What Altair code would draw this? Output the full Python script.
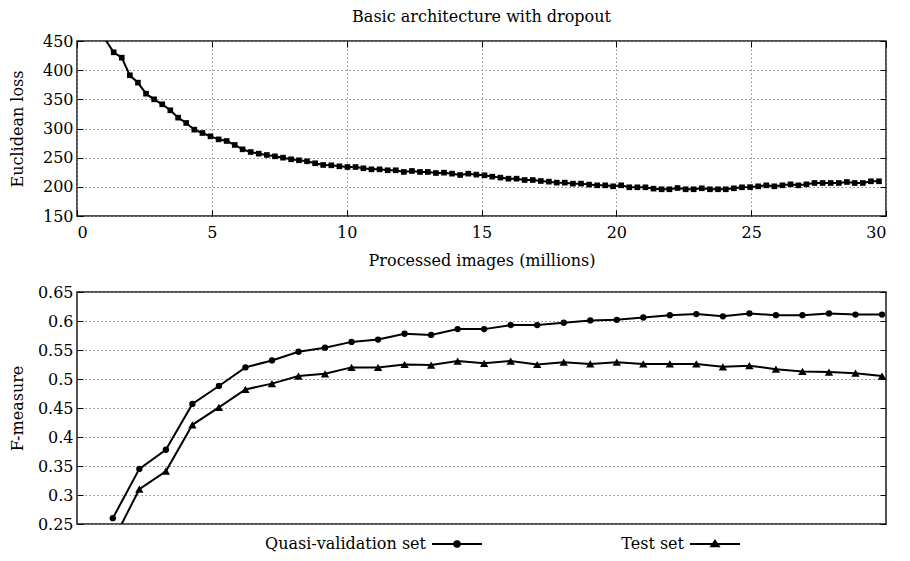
import altair as alt
import pandas as pd

# ---------------- data ----------------
# top panel: processed images (millions) vs Euclidean loss
proc_millions = [1.07, 1.36, 1.66, 1.96, 2.26, 2.56, 2.86, 3.16, 3.46, 3.75,
                 4.05, 4.35, 4.65, 4.95, 5.25, 5.55, 5.85, 6.14, 6.44, 6.74,
                 7.04, 7.34, 7.64, 7.94, 8.23, 8.53, 8.83, 9.13, 9.43, 9.73,
                 10.03, 10.33, 10.62, 10.92, 11.22, 11.52, 11.82, 12.12, 12.42, 12.72,
                 13.01, 13.31, 13.61, 13.91, 14.21, 14.51, 14.81, 15.11, 15.40, 15.70,
                 16.00, 16.30, 16.60, 16.90, 17.20, 17.50, 17.79, 18.09, 18.39, 18.69,
                 18.99, 19.29, 19.59, 19.88, 20.18, 20.48, 20.78, 21.08, 21.38, 21.68,
                 21.97, 22.27, 22.57, 22.87, 23.17, 23.47, 23.77, 24.06, 24.36, 24.66,
                 24.96, 25.26, 25.56, 25.86, 26.16, 26.46, 26.75, 27.05, 27.35, 27.65,
                 27.95, 28.25, 28.55, 28.84, 29.14, 29.44, 29.74]
euclid_loss = [451, 430.6, 421.4, 391.2, 378.6, 359.7, 350, 341.5, 331.2, 318.6,
               309.5, 298, 292.3, 286.6, 281.4, 278.6, 271.8, 264.3, 259.7, 256.9,
               254.6, 252.3, 250, 247.2, 245.5, 243.8, 240.4, 237.5, 236.9, 235.2,
               234, 234, 231.8, 230, 230, 228.4, 228.4, 225.5, 227.2, 225.5,
               225.5, 223.7, 224.3, 222.6, 220.3, 222.6, 220.9, 219.8, 217.5, 215.8,
               214, 214, 211.7, 211.7, 210, 208.9, 207.2, 207.2, 205.5, 205.5,
               203.8, 202.6, 202.6, 200.9, 202.6, 199.2, 199.2, 199.2, 196.9, 195.8,
               195.8, 198, 195.8, 195.8, 197.5, 195.8, 195.8, 195.8, 197.5, 199.2,
               199.5, 200.9, 202.6, 200.9, 202.6, 204.3, 202.6, 204.3, 206.6, 206.6,
               206.6, 206.6, 208.3, 206.6, 206.6, 209.5, 209.5]

# bottom panel: F-measure per evaluation step
eval_step = list(range(1, 31))
quasi_val = [0.260, 0.345, 0.378, 0.457, 0.488, 0.520, 0.532, 0.547, 0.554, 0.564,
             0.568, 0.578, 0.576, 0.586, 0.586, 0.593, 0.593, 0.597, 0.601, 0.602,
             0.606, 0.610, 0.612, 0.608, 0.613, 0.610, 0.610, 0.613, 0.611, 0.611]
test_set = [0.220, 0.310, 0.341, 0.421, 0.451, 0.482, 0.492, 0.505, 0.509, 0.520,
            0.520, 0.525, 0.524, 0.531, 0.527, 0.531, 0.525, 0.529, 0.526, 0.529,
            0.526, 0.526, 0.526, 0.521, 0.523, 0.517, 0.513, 0.512, 0.510, 0.505]
series_names = ["Quasi-validation set", "Test set"]

top_x_ticks = [0, 5, 10, 15, 20, 25, 30]
top_y_ticks = [150, 200, 250, 300, 350, 400, 450]
bot_y_ticks = [0.25, 0.3, 0.35, 0.4, 0.45, 0.5, 0.55, 0.6, 0.65]

# ---------------- style ----------------
FONT = "DejaVu Serif"
FS = 16
PLOT_W = 809
TOP_H, BOT_H = 175, 232

top_df = pd.DataFrame({"x": proc_millions, "loss": euclid_loss})
bot_df = pd.DataFrame({
    "step": eval_step * 2,
    "fm": quasi_val + test_set,
    "series": [series_names[0]] * len(eval_step) + [series_names[1]] * len(eval_step),
})

tick_only = dict(labels=False, grid=False, domain=False, ticks=True, tickSize=6,
                 tickColor="black", tickWidth=1, offset=-6, title=None)

xs_top = alt.Scale(domain=[0, 30], nice=False, zero=False)
ys_top = alt.Scale(domain=[150, 450], nice=False, zero=False)

top_line = alt.Chart(top_df).mark_line(color="black", strokeWidth=2, clip=True).encode(
    x=alt.X("x:Q", scale=xs_top,
            axis=alt.Axis(values=top_x_ticks, title="Processed images (millions)",
                          grid=True, ticks=False, domain=False, labelPadding=8,
                          titlePadding=12, orient="bottom")),
    y=alt.Y("loss:Q", scale=ys_top,
            axis=alt.Axis(values=top_y_ticks, title="Euclidean loss", grid=True,
                          ticks=False, domain=False, labelPadding=4, minExtent=44,
                          maxExtent=44, titlePadding=8, orient="left")),
)
top_pts = alt.Chart(top_df).transform_filter("datum.loss <= 450").mark_point(
    shape="square", filled=True, color="black", size=32, opacity=1, clip=True
).encode(
    x=alt.X("x:Q", scale=xs_top, axis=alt.Axis(values=top_x_ticks, orient="top", **tick_only)),
    y=alt.Y("loss:Q", scale=ys_top, axis=alt.Axis(values=top_y_ticks, orient="right", **tick_only)),
)
top_ticks = alt.Chart(top_df).mark_point(opacity=0, clip=True).encode(
    x=alt.X("x:Q", scale=xs_top, axis=alt.Axis(values=top_x_ticks, orient="bottom", **tick_only)),
    y=alt.Y("loss:Q", scale=ys_top, axis=alt.Axis(values=top_y_ticks, orient="left", **tick_only)),
)
top = alt.layer(top_line, top_pts, top_ticks).resolve_axis(
    x="independent", y="independent"
).properties(
    width=PLOT_W, height=TOP_H,
    title=alt.TitleParams("Basic architecture with dropout", font=FONT, fontSize=FS,
                          fontWeight="normal", offset=8, anchor="middle", color="black"),
)

xs_bot = alt.Scale(domain=[-0.35, 30.15], nice=False, zero=False)
ys_bot = alt.Scale(domain=[0.25, 0.65], nice=False, zero=False)

# legend symbols (unit = 5 px): 50 px line sample with the series marker in the middle
circle_sym = ("M-5,0H5"
              "M0.55,0A0.55,0.55,0,1,1,-0.55,0A0.55,0.55,0,1,1,0.55,0"
              "M0.3,0A0.3,0.3,0,1,1,-0.3,0A0.3,0.3,0,1,1,0.3,0"
              "M0.1,0A0.1,0.1,0,1,1,-0.1,0A0.1,0.1,0,1,1,0.1,0")
tri_sym = ("M-5,0H5"
           "M-0.75,0.45L0,-0.65L0.75,0.45Z"
           "M-0.4,0.25L0,-0.3L0.4,0.25Z"
           "M0,-0.6V0.45")

bot_line = alt.Chart(bot_df).mark_line(color="black", strokeWidth=2, clip=True).encode(
    x=alt.X("step:Q", scale=xs_bot, axis=None),
    y=alt.Y("fm:Q", scale=ys_bot,
            axis=alt.Axis(values=bot_y_ticks, format="~g", title="F-measure", grid=True,
                          ticks=False, domain=False, labelPadding=4, minExtent=44,
                          maxExtent=44, titlePadding=8, orient="left")),
    detail="series:N",
)
bot_circ = alt.Chart(bot_df).transform_filter(
    alt.datum.series == series_names[0]
).mark_point(shape="circle", filled=True, color="black", size=40, opacity=1, clip=True).encode(
    x=alt.X("step:Q", scale=xs_bot, axis=None),
    y=alt.Y("fm:Q", scale=ys_bot, axis=alt.Axis(values=bot_y_ticks, orient="right", **tick_only)),
)
bot_tri = alt.Chart(bot_df).transform_filter(
    alt.datum.series == series_names[1]
).mark_point(shape="triangle-up", filled=True, color="black", size=70, opacity=1, clip=True).encode(
    x=alt.X("step:Q", scale=xs_bot, axis=None),
    y=alt.Y("fm:Q", scale=ys_bot, axis=alt.Axis(values=bot_y_ticks, orient="left", **tick_only)),
)
bot_legend = alt.Chart(bot_df).transform_filter("false").mark_point(
    filled=False, color="black", strokeWidth=2, opacity=1
).encode(
    x=alt.X("step:Q", scale=xs_bot, axis=None),
    y=alt.Y("fm:Q", scale=ys_bot, axis=None),
    shape=alt.Shape("series:N",
                    scale=alt.Scale(domain=series_names, range=[circle_sym, tri_sym]),
                    legend=alt.Legend(
                        title=" ", titleOrient="left", titlePadding=372,
                        titleFontSize=FS, titleFont=FONT,
                        orient="bottom", offset=3, padding=0,
                        direction="horizontal", columnPadding=135,
                        labelFont=FONT, labelFontSize=FS, labelColor="black",
                        labelLimit=400,
                        labelAlign="right", labelOffset={"expr": "-39"},
                        symbolSize=100, symbolStrokeWidth=2,
                        symbolStrokeColor="black", symbolOpacity=1,
                    )),
)
bottom = alt.layer(bot_line, bot_circ, bot_tri, bot_legend).resolve_axis(
    y="independent"
).properties(width=PLOT_W, height=BOT_H)

chart = alt.concat(top, bottom, columns=1, spacing=14, align="none").properties(
    padding={"left": 0, "top": 0, "right": 0, "bottom": 0}
).configure_view(
    stroke="#1a1a1a", strokeWidth=1.5
).configure_axis(
    labelFont=FONT, titleFont=FONT, labelFontSize=FS, titleFontSize=FS,
    labelColor="black", titleColor="black", titleFontWeight="normal",
    gridColor="#8c8c8c", gridDash=[1.5, 2.5], gridWidth=1,
).configure_legend(labelFont=FONT, labelFontSize=FS)

chart.save("out.html", embed_options={"renderer": "svg", "actions": False})
